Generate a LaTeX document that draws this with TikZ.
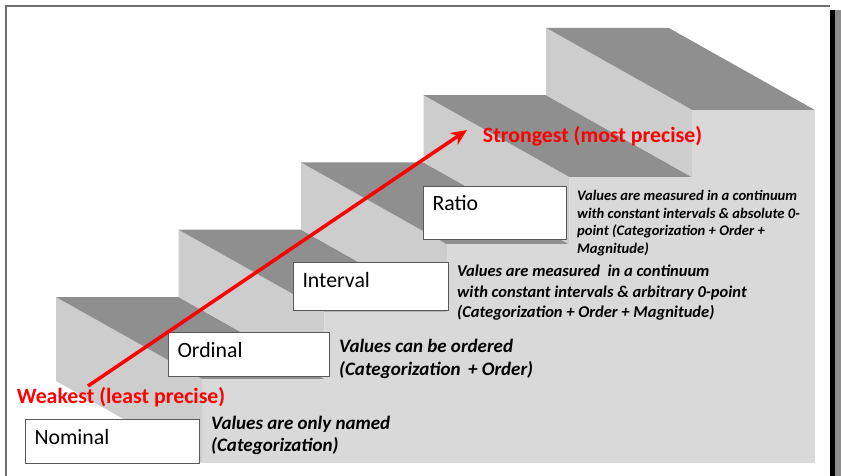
\documentclass[tikz,border=0pt]{standalone}
\usepackage{fontspec}
\setmainfont{Carlito}
\usetikzlibrary{arrows.meta}
\definecolor{treadgray}{HTML}{8F8F8F}
\definecolor{sidegray}{HTML}{CDCDCD}
\definecolor{frontgray}{HTML}{D9D9D9}
\definecolor{boxline}{HTML}{595959}
\definecolor{framegray}{HTML}{707070}
\definecolor{shadowgray}{HTML}{8C8C8C}

\begin{document}
\begin{tikzpicture}[x=1pt, y=-1pt]
        \tikzstyle{every node}=[inner sep=0pt]
        \tikzstyle{tread}=[fill=treadgray]
        \tikzstyle{side}=[fill=sidegray]
        \tikzstyle{front}=[fill=frontgray]
        \tikzstyle{box}=[draw=boxline, fill=white, line width=1pt, anchor=north west, inner xsep=9pt, text height=24.5pt, align=left, font=\fontsize{21.8}{25}\selectfont]
        \tikzstyle{note}=[anchor=north west, align=left, font=\bfseries\itshape\fontsize{19}{22}\selectfont]
        \tikzstyle{tag}=[text=red, font=\bfseries\fontsize{21.8}{25}\selectfont]
        \useasboundingbox (0,0) rectangle (841,476);
        \draw[framegray, line width=1.5pt] (6,476) -- (6,6) -- (830,6);
        \fill[black] (830,10) rectangle (834.5,476);
        \fill[shadowgray] (834.5,10) rectangle (841,476);
        \fill[side] (56,297) -- ++(146,82) -- ++(0,84) -- ++(-146,-82) -- cycle;
        \foreach \i in {0,...,4} {
            \pgfmathsetmacro{\bx}{56+122.5*\i}
            \pgfmathsetmacro{\by}{297-67.3*\i}
            \fill[side] (\bx,\by) -- ++(146,82) -- ++(0,67.3) -- ++(-146,-82) -- cycle;
            \fill[tread] (\bx,\by) -- ++(122.5,0) -- ++(146,82) -- ++(-122.5,0) -- cycle;
            \fill[front] (\bx+146,\by+82) rectangle (\bx+268.5,463);
        }
        \node[box, text width=156pt, text depth=19.5pt] (nominal) at (25,419) {Nominal};
        \node[box, text width=143pt, text depth=19.5pt] (ordinal) at (168,332) {Ordinal};
        \node[box, text width=137pt, text depth=23.5pt] (interval) at (293,262) {Interval};
        \node[box, text width=125pt, text depth=28.5pt] (ratio) at (423,186) {Ratio};
        \node[note] (nominalnote) at (211,416) {Values are only named\\(Categorization)};
        \node[note, font=\bfseries\itshape\fontsize{19}{23}\selectfont] (ordinalnote) at (339,339) {Values can be ordered\\(Categorization\, + Order)};
        \node[note, font=\bfseries\itshape\fontsize{16.5}{20.5}\selectfont] (intervalnote) at (457,265) {Values are measured~ in a continuum\\with constant intervals \& arbitrary 0-point\\(Categorization + Order + Magnitude)};
        \node[note, font=\bfseries\itshape\fontsize{14.6}{17.7}\selectfont] (rationote) at (577,190) {Values are measured in a continuum\\with constant intervals \& absolute 0-\\point (Categorization + Order +\\Magnitude)};
        \coordinate (lo) at (88,386);
        \coordinate (hi) at (467,130);
        \draw[red, line width=3.5pt, -{Stealth[length=16pt, width=14pt]}] (lo) -- (hi);
        \node[tag] (weak) at (121,397) {Weakest (least precise)};
        \node[tag] (strong) at (592.5,136) {Strongest (most precise)};
    \end{tikzpicture}
\end{document}
